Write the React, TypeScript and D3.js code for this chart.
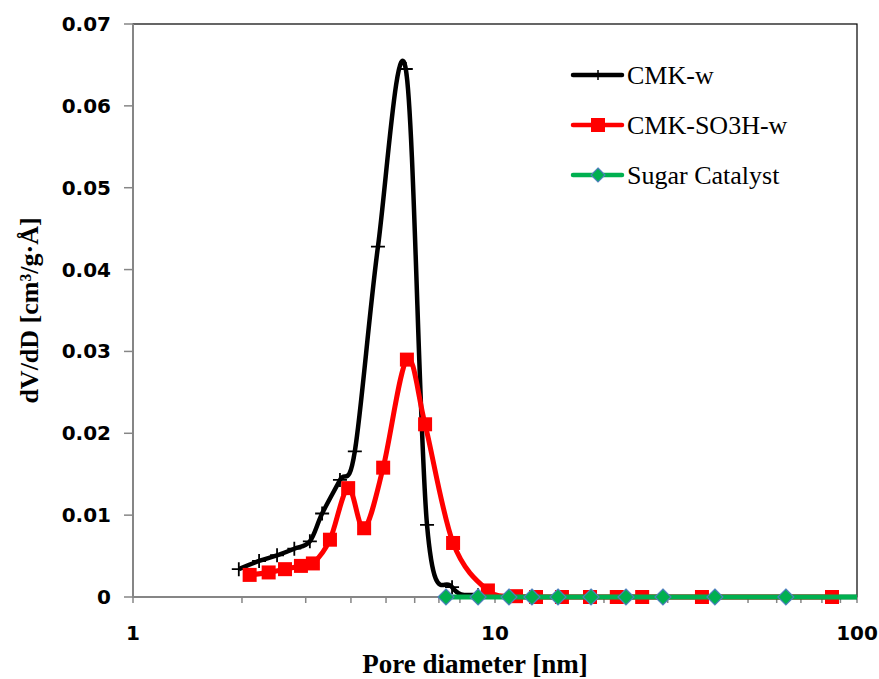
import React from "react";
import * as d3 from "d3";

const cmkD = [1.96, 2.23, 2.5, 2.79, 3.08, 3.33, 3.73, 4.1, 4.75, 5.67, 6.49, 7.61, 8.98, 10.93, 12.65, 14.93, 18.42, 23.0, 29.1, 40.5, 63.6, 130];
const cmkV = [0.0034, 0.0044, 0.0051, 0.0059, 0.0068, 0.0102, 0.0143, 0.0178, 0.0428, 0.0645, 0.0088, 0.0012, 0.0002, 0, 0, 0, 0, 0, 0, 0, 0, 0];

const so3hD = [2.1, 2.37, 2.63, 2.91, 3.14, 3.5, 3.93, 4.35, 4.91, 5.71, 6.41, 7.66, 9.56, 11.43, 12.98, 15.31, 18.3, 21.7, 25.5, 37.3, 85.3];
const so3hV = [0.0027, 0.003, 0.0034, 0.0038, 0.0041, 0.007, 0.0133, 0.0084, 0.0158, 0.029, 0.0211, 0.0066, 0.0008, 0.0001, 0, 0, 0, 0, 0, 0, 0];

const sugarD = [7.32, 8.98, 10.93, 12.65, 14.93, 18.42, 23.0, 29.1, 40.5, 63.6, 130];
const sugarV = [0, 0, 0, 0, 0, 0, 0, 0, 0, 0, 0];

const yTicks = [0, 0.01, 0.02, 0.03, 0.04, 0.05, 0.06, 0.07];
const xMajor = [1, 10, 100];
const seriesNames = ["CMK-w", "CMK-SO3H-w", "Sugar Catalyst"];

const W = 879;
const H = 679;
const L = 133, R = 857, T = 24, B = 597;

export default function App() {
  const x = d3.scaleLog().domain([1, 100]).range([L, R]);
  const y = d3.scaleLinear().domain([0, 0.07]).range([B, T]);
  const line = d3
    .line<[number, number]>()
    .x((d) => x(d[0]))
    .y((d) => y(d[1]))
    .curve(d3.curveCatmullRom.alpha(0));

  const cmk = cmkD.map((d, i) => [d, cmkV[i]] as [number, number]);
  const so3h = so3hD.map((d, i) => [d, so3hV[i]] as [number, number]);
  const sugar = sugarD.map((d, i) => [d, sugarV[i]] as [number, number]);

  const minor: number[] = [];
  for (const dec of [1, 10]) for (let k = 1; k <= 10; k++) minor.push(dec * k);
  const xTicks = Array.from(new Set(minor));

  const gray = "#868686";
  const black = "#000000";
  const red = "#FF0000";
  const green = "#00B050";
  const blue = "#4F81BD";

  const plus = (cx: number, cy: number, s = 7) =>
    `M${cx - s},${cy}L${cx + s},${cy}M${cx},${cy - s}L${cx},${cy + s}`;
  const diamond = (cx: number, cy: number, s = 8) =>
    `M${cx},${cy - s}L${cx + s},${cy}L${cx},${cy + s}L${cx - s},${cy}Z`;

  const legendY = [75, 125, 175];
  const lx1 = 573, lx2 = 622, lmx = 598;

  return (
    <svg
      width={W}
      height={H}
      style={{ position: "fixed", left: 0, top: 0, background: "#fff" }}
      xmlns="http://www.w3.org/2000/svg"
    >
      <rect x={0} y={0} width={W} height={H} fill="#fff" />
      <defs>
        <clipPath id="plotclip">
          <rect x={L} y={T - 10} width={R - L} height={B - T + 20} />
        </clipPath>
      </defs>
      {/* plot border */}
      <rect x={L} y={T} width={R - L} height={B - T} fill="none" stroke="#000" strokeWidth={1.2} />

      {/* y axis */}
      <line x1={L} x2={L} y1={T} y2={B} stroke={gray} strokeWidth={2} />
      {yTicks.map((t) => (
        <g key={"yt" + t}>
          <line x1={L - 9} x2={L} y1={y(t)} y2={y(t)} stroke={gray} strokeWidth={1.5} />
          <text
            x={111}
            y={y(t)}
            textAnchor="end"
            dominantBaseline="central"
            fontFamily="DejaVu Sans"
            fontWeight="bold"
            fontSize={20}
            fill="#000"
          >
            {t === 0 ? "0" : d3.format(".2f")(t)}
          </text>
        </g>
      ))}

      {/* x axis */}
      <line x1={L} x2={R} y1={B} y2={B} stroke={gray} strokeWidth={2} />
      {xTicks.map((t) => (
        <line key={"xt" + t} x1={x(t)} x2={x(t)} y1={B} y2={B + 6} stroke={gray} strokeWidth={1.5} />
      ))}
      {xMajor.map((t) => (
        <text
          key={"xl" + t}
          x={x(t)}
          y={640}
          textAnchor="middle"
          fontFamily="DejaVu Sans"
          fontWeight="bold"
          fontSize={20}
          fill="#000"
        >
          {t}
        </text>
      ))}

      {/* series */}
      <g clipPath="url(#plotclip)">
        <path d={line(cmk) || ""} fill="none" stroke={black} strokeWidth={4.5} />
        {cmk.map((p, i) =>
          p[0] <= 100 ? (
            <path key={"cm" + i} d={plus(x(p[0]), y(p[1]))} stroke={black} strokeWidth={1.8} fill="none" />
          ) : null
        )}
        <path d={line(so3h) || ""} fill="none" stroke={red} strokeWidth={5} />
        {so3h.map((p, i) => (
          <rect key={"sq" + i} x={x(p[0]) - 7} y={y(p[1]) - 7} width={14} height={14} fill={red} />
        ))}
        <path d={line(sugar) || ""} fill="none" stroke={green} strokeWidth={5} />
        {sugar.map((p, i) =>
          p[0] <= 100 ? (
            <path key={"dm" + i} d={diamond(x(p[0]), y(p[1]))} fill={green} stroke={blue} strokeWidth={1.2} />
          ) : null
        )}
      </g>

      {/* legend */}
      {seriesNames.map((n, i) => (
        <g key={"lg" + i}>
          <line
            x1={lx1}
            x2={lx2}
            y1={legendY[i]}
            y2={legendY[i]}
            stroke={[black, red, green][i]}
            strokeWidth={4.5}
            strokeLinecap="round"
          />
          {i === 0 && <path d={plus(lmx, legendY[i], 5)} stroke={black} strokeWidth={1.5} />}
          {i === 1 && <rect x={lmx - 7} y={legendY[i] - 7} width={14} height={14} fill={red} />}
          {i === 2 && <path d={diamond(lmx, legendY[i], 7)} fill={green} stroke={blue} strokeWidth={1.2} />}
          <text
            x={627}
            y={legendY[i]}
            dominantBaseline="central"
            fontFamily="Liberation Serif"
            fontSize={26}
            fill="#000"
          >
            {n}
          </text>
        </g>
      ))}

      {/* axis titles */}
      <text
        x={(L + R) / 2 - 20}
        y={673}
        textAnchor="middle"
        fontFamily="Liberation Serif"
        fontWeight="bold"
        fontSize={27}
        fill="#000"
      >
        Pore diameter  [nm]
      </text>
      <text
        transform={`translate(38, ${(T + B) / 2}) rotate(-90)`}
        textAnchor="middle"
        fontFamily="Liberation Serif"
        fontWeight="bold"
        fontSize={26}
        fill="#000"
      >
        {"dV/dD  [cm³/g·Å]"}
      </text>
    </svg>
  );
}
